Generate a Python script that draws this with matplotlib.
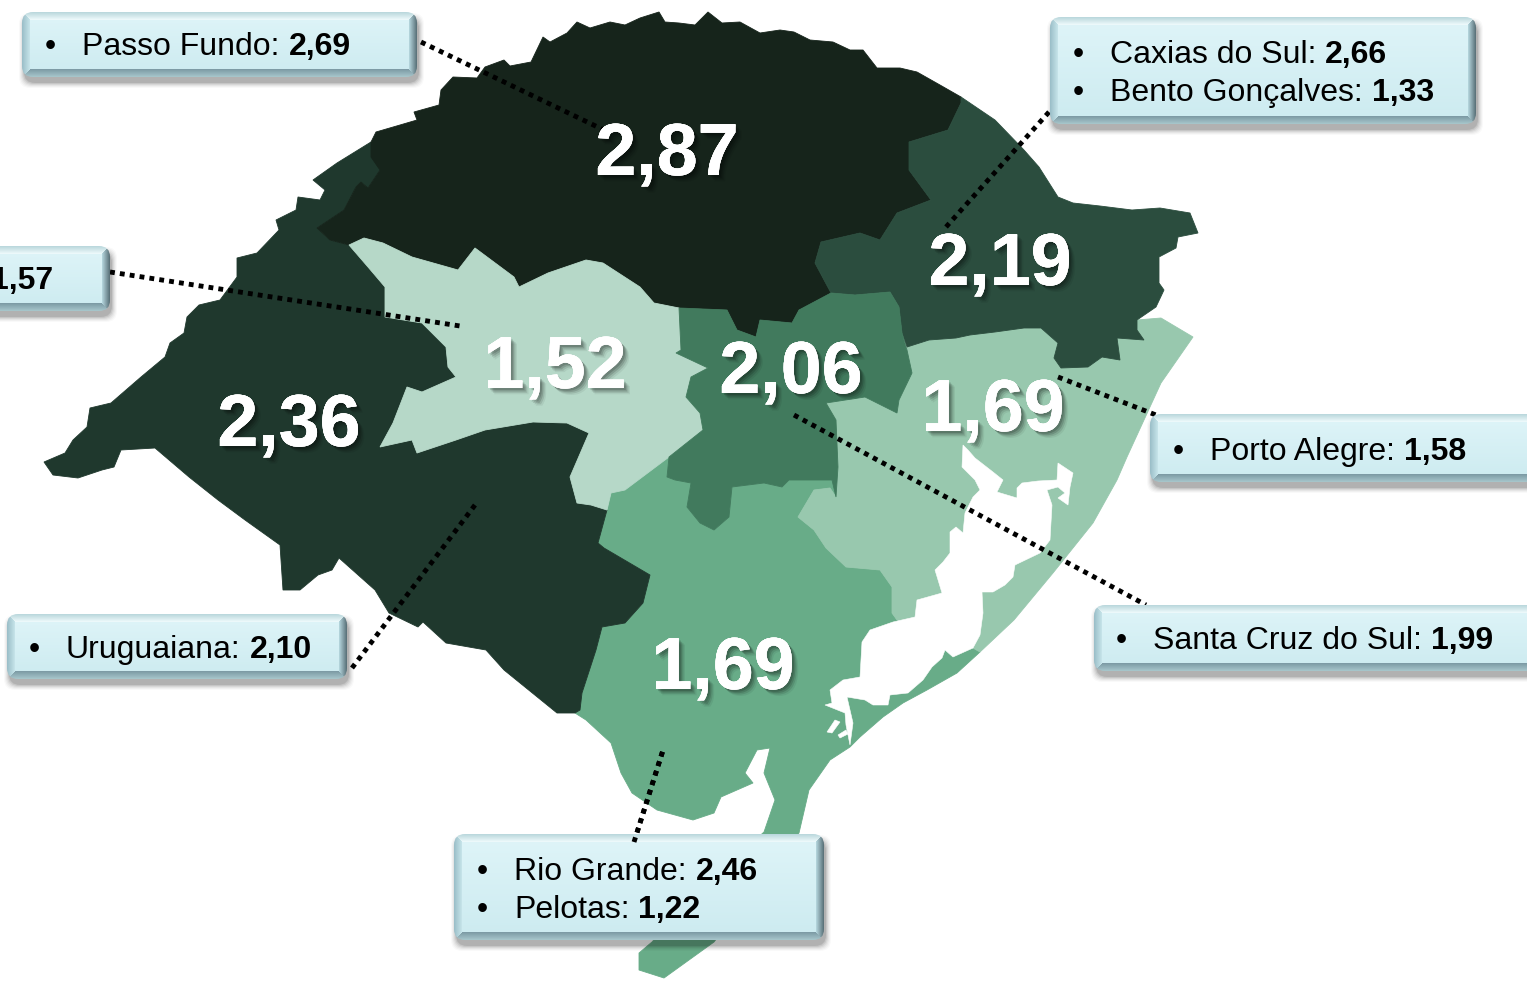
import numpy as np
import matplotlib
matplotlib.use("Agg")
import matplotlib.pyplot as plt
from matplotlib.patches import Polygon, FancyBboxPatch
import matplotlib.patheffects as pe

plt.rcParams['font.family'] = ['Liberation Sans', 'DejaVu Sans']

W, H = 1527, 981

# ---------- regional outlines (pixel coordinates) ----------
west = [(44,462),(65,453),(73,440),(87,427),(90,408),(111,403),(141,377),(165,357),(170,343),(184,333),(187,317),
        (199,305),(220,300),(237,277),(237,258),(257,253),(279,230),(276,220),(296,210),(298,197),(320,200),(325,190),
        (313,180),(337,163),(371,142),(380,170),(368,188),(361,182),(356,187),(344,210),(317,228),(330,240),(349,245),
        (368,267),(385,287),(385,317),(422,323),(446,347),(448,367),(456,377),(422,392),(407,387),(393,423),(380,447),
        (412,440),(417,453),(456,440),(485,430),(533,422),(567,423),(589,433),(570,477),(577,503),(591,505),(607,510),
        (598,543),(604,548),(650,575),(643,603),(625,623),(602,627),(596,650),(582,693),(580,710),(575,713),(557,713),
        (504,670),(486,650),(446,643),(423,622),(418,627),(389,613),(375,590),(339,558),(332,570),(318,575),(300,590),
        (283,590),(280,545),(245,520),(218,500),(189,477),(155,448),(121,450),(114,467),(102,470),(78,478),(53,475)]
north = [(317,228),(344,210),(356,187),(361,182),(368,188),(380,170),(371,157),(371,142),(376,132),(400,125),(417,120),
         (414,112),(439,105),(441,90),(453,77),(477,78),(485,67),(504,60),(510,66),(531,62),(543,37),(550,42),(567,33),
         (577,22),(590,28),(610,22),(625,25),(640,18),(659,12),(665,22),(679,23),(695,25),(708,12),(722,23),(740,22),
         (760,33),(780,30),(794,32),(810,40),(833,42),(850,50),(863,50),(877,68),(900,68),(917,72),(940,85),(961,97),
         (961,103),(948,130),(909,142),(909,170),(931,200),(897,213),(880,240),(860,233),(821,242),(815,263),(831,293),
         (799,310),(792,323),(760,320),(756,337),(737,330),(727,310),(679,308),(654,303),(640,287),(603,263),(586,260),
         (548,273),(519,287),(514,277),(475,248),(458,270),(412,257),(383,243),(364,238),(349,245),(330,240)]
northeast = [(961,97),(995,120),(1024,150),(1039,167),(1058,197),(1073,203),(1100,206),(1132,210),(1160,208),(1190,213),
             (1198,233),(1178,237),(1176,248),(1159,257),(1159,283),(1164,290),(1156,307),(1137,320),(1137,330),(1144,340),
             (1117,338),(1120,360),(1102,357),(1088,367),(1061,368),(1054,358),(1058,343),(1041,328),(1024,328),(995,332),
             (970,335),(956,338),(929,340),(907,347),(902,333),(899,307),(890,292),(855,295),(831,293),(815,263),(821,242),
             (860,233),(880,240),(897,213),(931,200),(909,170),(909,142),(948,130),(961,103)]
central = [(679,308),(727,310),(737,330),(756,337),(760,320),(792,323),(799,310),(831,293),(855,295),(890,292),(899,307),
           (902,333),(907,350),(912,373),(899,400),(897,413),(877,403),(865,397),(826,403),(836,420),(838,467),(836,497),
           (832,480),(789,480),(782,487),(764,483),(732,487),(729,517),(714,530),(700,523),(687,507),(691,483),(675,480),
           (667,477),(669,457),(703,430),(700,413),(686,397),(691,377),(708,368),(676,353),(681,350)]
midwest = [(349,245),(364,238),(383,243),(412,257),(458,270),(475,248),(514,277),(519,287),(548,273),(586,260),(603,263),
           (640,287),(654,303),(679,308),(681,350),(676,353),(708,368),(691,377),(686,397),(700,413),(703,430),(669,457),
           (625,490),(611,493),(607,510),(591,505),(577,503),(570,477),(589,433),(567,423),(533,422),(485,430),(456,440),
           (417,453),(412,440),(380,447),(393,423),(407,387),(422,392),(456,377),(448,367),(446,347),(422,323),(385,317),
           (385,287),(368,267)]
south = [(575,713),(580,710),(582,693),(596,650),(602,627),(625,623),(643,603),(650,575),(604,548),(598,543),(607,510),
         (611,493),(669,457),(667,477),(675,480),(691,483),(687,507),(700,523),(714,530),(729,517),(732,487),(764,483),
         (782,487),(789,480),(832,480),(838,498),(836,497),(830,488),(814,490),(798,517),(814,530),(826,548),(846,567),
         (880,570),(892,587),(892,613),(897,620),(940,630),(980,652),(957,673),(927,690),(903,703),(883,717),(860,737),
         (850,747),(830,760),(823,770),(809,790),(799,833),(760,880),(714,942),(664,978),(639,970),(639,953),(652,942),
         (700,890),(764,832),(775,800),(764,773),(770,748),(757,750),(745,773),(753,783),(721,797),(714,813),(693,820),
         (657,810),(632,793),(621,773),(611,743),(586,720)]
east = [(907,347),(929,340),(956,338),(970,335),(995,332),(1024,328),(1041,328),(1058,343),(1054,358),(1061,368),
        (1088,367),(1102,357),(1120,360),(1117,338),(1144,340),(1137,330),(1137,320),(1161,318),(1193,337),(1161,383),
        (1127,457),(1117,480),(1093,523),(1053,573),(1014,620),(980,652),(973,648),(960,640),(920,625),(897,620),(892,613),
        (892,587),(880,570),(846,567),(826,548),(814,530),(798,517),(814,490),(830,488),(836,497),(838,467),(836,420),
        (826,403),(865,397),(877,403),(897,413),(899,400),(912,373),(907,350)]
lagoon = [(830,690),(843,680),(860,677),(862,642),(870,630),(893,622),(915,617),(917,600),(942,593),(935,570),(943,562),
          (950,553),(950,532),(956,527),(963,533),(965,513),(973,497),(980,490),(975,480),(962,467),(963,445),(968,450),
          (975,458),(993,472),(1003,480),(997,492),(1017,498),(1017,488),(1022,483),(1038,481),(1057,480),(1058,463),
          (1073,473),(1070,487),(1068,505),(1058,498),(1065,493),(1058,487),(1047,490),(1052,505),(1050,540),(1040,553),
          (1015,565),(1013,577),(1005,585),(993,592),(982,592),(983,613),(980,635),(973,648),(953,657),(945,650),(942,658),
          (932,667),(923,680),(908,693),(890,695),(888,705),(873,705),(865,700),(847,697),(853,723),(850,745),(846,725),
          (845,713),(825,705),(832,703)]
estuary_a = [(827,732),(835,720),(840,722),(832,733)]
estuary_b = [(838,735),(846,730),(848,734),(840,738)]

region_shapes = [south, east, west, north, northeast, midwest, central]
region_colors = ['#68ac88', '#98c8ae', '#1f382d', '#16241b', '#2b4d3e', '#b6d8c8', '#417a5d']
water_shapes = [lagoon, estuary_a, estuary_b]

# ---------- values ----------
big_values = ['2,87', '2,19', '1,52', '2,06', '2,36', '1,69', '1,69']
big_x = [667, 1000, 555, 791, 289, 993, 723]
big_y = [175, 285, 388, 393, 446, 431, 689]

box_names = ['Passo Fundo', 'Caxias do Sul', 'Bento Gonçalves', 'Porto Alegre', 'Santa Cruz do Sul',
             'Uruguaiana', 'Rio Grande', 'Pelotas']
box_values = ['2,69', '2,66', '1,33', '1,58', '1,99', '2,10', '2,46', '1,22']
text_x = [82, 1110, 1110, 1210, 1153, 66, 514, 514]
text_y = [55, 63, 101, 460, 649, 658, 880, 918]
bullet_offset = 37

boxes = [(22,12,417,77), (1050,17,1476,124), (-60,246,110,311), (1150,414,1570,482),
         (1094,605,1570,671), (7,614,347,679), (454,834,824,940)]

leaders = [((421,42),(608,132)), ((1049,112),(946,227)), ((110,272),(460,326)), ((1058,377),(1156,415)),
           ((794,415),(1146,605)), ((352,668),(475,505)), ((634,842),(664,747))]

# ---------- drawing ----------
fig = plt.figure(figsize=(W/100, H/100), dpi=100)
ax = fig.add_axes([0, 0, 1, 1])
ax.set_xlim(0, W)
ax.set_ylim(H, 0)
ax.axis('off')

for shape, colour in zip(region_shapes, region_colors):
    ax.add_patch(Polygon(shape, closed=True, fc=colour, ec=colour, lw=0.6, zorder=2))
for shape in water_shapes:
    ax.add_patch(Polygon(shape, closed=True, fc='white', ec='white', lw=0.4, zorder=3))

LEADER = dict(color='black', lw=3.5, ls=(0, (1.0, 1.05)), dash_capstyle='butt')
for (a, b) in leaders:
    ax.plot([a[0], b[0]], [a[1], b[1]], zorder=4, **LEADER)


def bevel_image(w, h, b=8):
    yy, xx = np.mgrid[0:h, 0:w]
    yy = yy + 0.5
    xx = xx + 0.5
    t = (yy / h)[..., None]
    top_c, bot_c = np.array([0.875, 0.96, 0.975]), np.array([0.80, 0.92, 0.94])
    img = top_c * (1 - t) + bot_c * t
    dt, db, dl, dr = yy, h - yy, xx, w - xx
    bands = [(dt, (0.72, 0.84, 0.86), (0.94, 0.985, 0.99)),
             (db, (0.66, 0.78, 0.80), (0.48, 0.60, 0.64)),
             (dl, (0.60, 0.74, 0.78), (0.78, 0.90, 0.92)),
             (dr, (0.34, 0.43, 0.46), (0.72, 0.85, 0.88))]
    dmin = np.minimum.reduce([dt, db, dl, dr])
    for d, outer, inner in bands:
        mask = (d == dmin) & (d < b)
        f = (d / b)[..., None]
        col = np.array(outer) * (1 - f) + np.array(inner) * f
        img = np.where(mask[..., None], col, img)
    return img


for (x0, y0, x1, y1) in boxes:
    for grow, alpha in [(10, 0.025), (8, 0.035), (6, 0.045), (4, 0.06), (2, 0.08), (0, 0.10)]:
        ax.add_patch(FancyBboxPatch((x0 + 2 - grow/2, y0 + 6 - grow/2), x1 - x0 + grow, y1 - y0 + grow,
                                    boxstyle='round,pad=0,rounding_size=11', fc='black', ec='none',
                                    alpha=alpha, zorder=5))
    clip = FancyBboxPatch((x0, y0), x1 - x0, y1 - y0, boxstyle='round,pad=0,rounding_size=11',
                          fc='none', ec='none', zorder=6)
    ax.add_patch(clip)
    im = ax.imshow(bevel_image(int(x1 - x0), int(y1 - y0)), extent=(x0, x1, y1, y0),
                   aspect='auto', zorder=6, interpolation='bilinear')
    im.set_clip_path(clip)
ax.set_xlim(0, W)
ax.set_ylim(H, 0)

# this leader overlaps the top edge of its box
a, b = leaders[6]
ax.plot([a[0], b[0]], [a[1], b[1]], zorder=7, **LEADER)

FS = 23
renderer = fig.canvas.get_renderer()
for name, value, x, y in zip(box_names, box_values, text_x, text_y):
    ax.text(x - bullet_offset, y, '•', fontsize=FS, color='black', va='baseline', ha='left', zorder=8)
    ax.text(x, y, name + ':', fontsize=FS, color='black', va='baseline', ha='left', zorder=8)
    t2 = ax.text(x, y, name + ':', fontsize=FS, alpha=0)
    bb = t2.get_window_extent(renderer)
    t2.remove()
    ax.text(bb.x1 + 9, y, value, fontsize=FS, fontweight='bold', color='black', va='baseline', ha='left', zorder=8)

# label cut off by the left edge, as in the source picture
ax.text(53, 289, '1,57', fontsize=FS, fontweight='bold', color='black', ha='right', va='baseline', zorder=8)

shadow = []
for off, alpha in [((4.5, -4.5), 0.06), ((3.5, -3.5), 0.10), ((2.5, -2.5), 0.14), ((1.5, -1.5), 0.16)]:
    shadow.append(pe.withSimplePatchShadow(offset=off, shadow_rgbFace='black', alpha=alpha))
for value, x, y in zip(big_values, big_x, big_y):
    ax.text(x, y, value, fontsize=53, fontweight='bold', color='white', ha='center', va='baseline', zorder=9,
            path_effects=shadow + [pe.Normal()])

fig.savefig('out.png', dpi=100)
